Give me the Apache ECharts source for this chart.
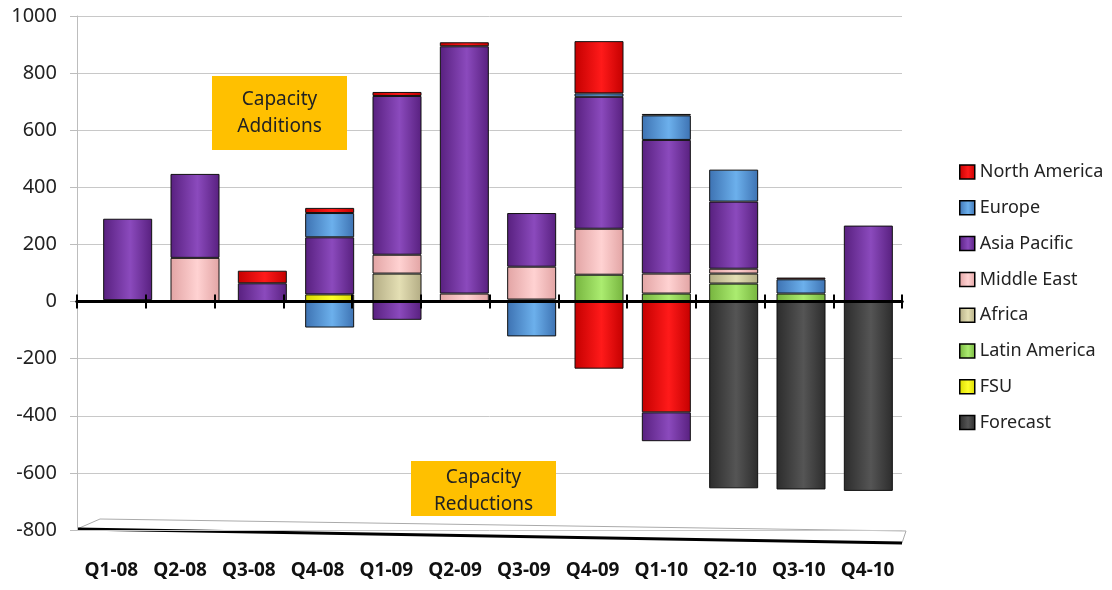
<!DOCTYPE html>
<html>
<head>
<meta charset="UTF-8">
<title>Capacity Additions and Reductions</title>
<style>
  html, body { margin: 0; padding: 0; background: #fff; }
  #chart { width: 1112px; height: 590px; }
</style>
</head>
<body>
<div id="chart"></div>
<script src="https://cdn.jsdelivr.net/npm/echarts@6/dist/echarts.min.js"></script>
<script>
// quarters on the x axis
var quarters = ['Q1-08', 'Q2-08', 'Q3-08', 'Q4-08', 'Q1-09', 'Q2-09', 'Q3-09', 'Q4-09', 'Q1-10', 'Q2-10', 'Q3-10', 'Q4-10'];

// additions (stacked from the bottom up)
var fsu          = [0, 0, 0, 25, 0, 0, 0, 0, 0, 0, 0, 0];
var latinAmerica = [0, 0, 0, 0, 0, 0, 7, 94, 28, 63, 28, 0];
var africa       = [0, 0, 0, 0, 98, 0, 0, 0, 0, 35, 0, 0];
var middleEast   = [5, 153, 0, 0, 66, 28, 115, 161, 70, 17, 0, 0];
var asiaPacific  = [285, 294, 64, 200, 556, 866, 188, 462, 468, 235, 0, 266];
var europe       = [0, 0, 0, 85, 0, 0, 0, 12, 86, 112, 50, 0];
var northAmerica = [0, 0, 44, 18, 14, 14, 0, 183, 5, 0, 6, 0];

// reductions
var europeCut       = [0, 0, 0, -91, 0, 0, -122, 0, 0, 0, 0, 0];
var northAmericaCut = [0, 0, 0, 0, 0, 0, 0, -235, -388, 0, 0, 0];
var asiaPacificCut  = [0, 0, 0, 0, -64, 0, 0, 0, -101, 0, 0, 0];
var forecast        = [0, 0, 0, 0, 0, 0, 0, 0, 0, -654, -658, -663];

var legendNames = ['North America', 'Europe', 'Asia Pacific', 'Middle East', 'Africa', 'Latin America', 'FSU', 'Forecast'];
var yTicks = { min: -800, max: 1000, step: 200 };

var FONT = '"Noto Sans", "DejaVu Sans", sans-serif';

function tube(edge, mid) {
    return new echarts.graphic.LinearGradient(0, 0, 1, 0, [
        { offset: 0, color: edge },
        { offset: 0.55, color: mid },
        { offset: 1, color: edge }
    ]);
}

function bar(name, values, edge, mid) {
    return {
        name: name,
        type: 'bar',
        stack: 'cap',
        xAxisIndex: 2,
        yAxisIndex: 1,
        barWidth: 49,
        data: values.map(function (v) { return v === 0 ? '-' : v; }),
        itemStyle: { color: tube(edge, mid), borderColor: '#111', borderWidth: 1 },
        emphasis: { disabled: true }
    };
}

var chart = echarts.init(document.getElementById('chart'));

var gridTop = 16, gridBottom = 60;

chart.setOption({
    animation: false,
    textStyle: { fontFamily: FONT },
    grid: [
        { left: 77, right: 210, top: gridTop, bottom: gridBottom },
        { left: 94, right: 210, top: gridTop, bottom: gridBottom },
        { left: 77, right: 210, top: gridTop, bottom: gridBottom }
    ],
    legend: {
        orient: 'vertical',
        left: 954,
        top: 158,
        icon: 'rect',
        itemWidth: 15,
        itemHeight: 14,
        itemGap: 17.8,
        data: legendNames,
        textStyle: { fontFamily: FONT, fontSize: 18, color: '#222' },
        itemStyle: { borderColor: '#000', borderWidth: 1.5 }
    },
    xAxis: [
        {
            type: 'category', gridIndex: 0, position: 'bottom', data: quarters, z: 5,
            axisLine: { onZero: true, onZeroAxisIndex: 0, lineStyle: { color: '#000', width: 3 } },
            axisTick: { show: true, length: 7, lineStyle: { color: '#000', width: 2 } },
            axisLabel: { show: false }
        },
        {
            type: 'category', gridIndex: 0, position: 'top', data: quarters, z: 5,
            axisLine: { onZero: true, onZeroAxisIndex: 0, lineStyle: { color: '#000', width: 3 } },
            axisTick: { show: true, length: 7, lineStyle: { color: '#000', width: 2 } },
            axisLabel: { show: false }
        },
        {
            type: 'category', gridIndex: 1, data: quarters, show: false
        },
        {
            type: 'category', gridIndex: 2, data: quarters,
            axisLine: { show: false, onZero: false },
            axisTick: { show: false },
            axisLabel: { interval: 0, fontFamily: FONT, fontSize: 19, fontWeight: 'bold', color: '#111', margin: 31 }
        }
    ],
    yAxis: [
        {
            type: 'value', gridIndex: 0, min: yTicks.min, max: yTicks.max, interval: yTicks.step,
            axisLine: { show: true, lineStyle: { color: '#bdbdbd', width: 1 } },
            axisTick: { show: true, length: 7, lineStyle: { color: '#bdbdbd' } },
            axisLabel: { fontFamily: FONT, fontSize: 20, color: '#222', margin: 20, formatter: function (v) { return String(v); } },
            splitLine: { lineStyle: { color: '#c8c8c8', width: 1 } }
        },
        { type: 'value', gridIndex: 1, min: yTicks.min, max: yTicks.max, interval: yTicks.step, show: false, splitLine: { show: false } },
        { type: 'value', gridIndex: 2, min: yTicks.min, max: yTicks.max, interval: yTicks.step, show: false, splitLine: { show: false } }
    ],
    series: [
        bar('FSU', fsu, '#d8d800', '#ffff2a'),
        bar('Latin America', latinAmerica, '#76b43e', '#abec70'),
        bar('Africa', africa, '#b3ac84', '#e4dfb4'),
        bar('Middle East', middleEast, '#e2a4a4', '#ffd2d2'),
        bar('Asia Pacific', asiaPacific, '#58207f', '#8b4abd'),
        bar('Europe', europe, '#3d72b2', '#6cb0ec'),
        bar('North America', northAmerica, '#c40000', '#ff1a1a'),
        bar('Europe', europeCut, '#3d72b2', '#6cb0ec'),
        bar('North America', northAmericaCut, '#c40000', '#ff1a1a'),
        bar('Asia Pacific', asiaPacificCut, '#58207f', '#8b4abd'),
        bar('Forecast', forecast, '#2c2c2c', '#555555')
    ],
    graphic: [
        // floor of the 3-D plot
        { type: 'polyline', shape: { points: [[77, 529], [100, 519], [906, 531], [902, 543]] }, style: { stroke: '#aaa', lineWidth: 1, fill: null }, silent: true },
        { type: 'line', shape: { x1: 77, y1: 529, x2: 902, y2: 543 }, style: { stroke: '#000', lineWidth: 3 }, silent: true },
        // callouts
        { type: 'rect', shape: { x: 212, y: 76, width: 135, height: 74 }, style: { fill: '#ffc000' }, z: 10, silent: true },
        { type: 'text', x: 279.5, y: 113, style: { text: 'Capacity\nAdditions', fill: '#222', font: '19px ' + FONT, align: 'center', verticalAlign: 'middle', lineHeight: 27 }, z: 11, silent: true },
        { type: 'rect', shape: { x: 411, y: 461, width: 145, height: 55 }, style: { fill: '#ffc000' }, z: 10, silent: true },
        { type: 'text', x: 483.5, y: 491, style: { text: 'Capacity\nReductions', fill: '#222', font: '19px ' + FONT, align: 'center', verticalAlign: 'middle', lineHeight: 27 }, z: 11, silent: true }
    ]
});
</script>
</body>
</html>
